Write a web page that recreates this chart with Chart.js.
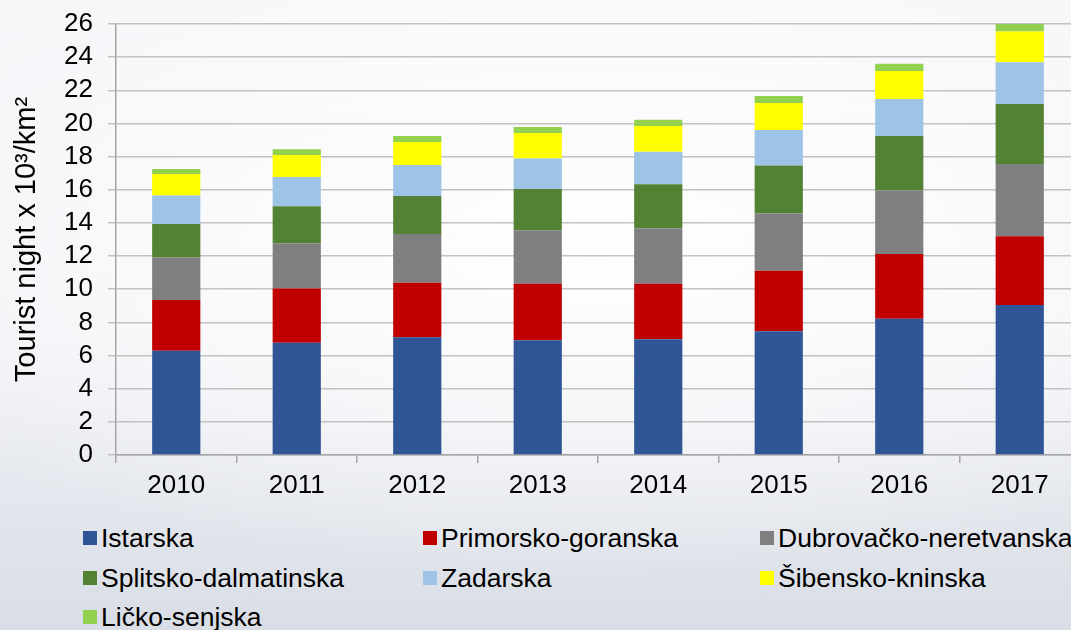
<!DOCTYPE html>
<html>
<head>
<meta charset="utf-8">
<script src="https://cdn.jsdelivr.net/npm/chart.js@4"></script>
<style>
  html, body { margin: 0; padding: 0; width: 1071px; height: 630px; overflow: hidden; }
  body {
    font-family: "Liberation Sans", Arial, sans-serif;
    background:
      radial-gradient(ellipse 820px 330px at 600px 250px, rgba(255,255,255,0.95) 0%, rgba(255,255,255,0.5) 55%, rgba(255,255,255,0) 100%),
      linear-gradient(180deg, #f7f7fa 0%, #f1f2f6 55%, #e4e7ed 78%, #d9dde5 100%);
    position: relative;
  }
  #wrap { position: absolute; left: 0; top: 0; width: 1085px; height: 510px; }
  #legend { position: absolute; left: 0; top: 518px; width: 1200px; }
  .item { position: absolute; height: 40px; line-height: 40px; font-size: 26.5px; color: #000; white-space: nowrap; }
  .box { display: inline-block; width: 14px; height: 14px; vertical-align: middle; margin-right: 4px; position: relative; top: -2px; }
</style>
</head>
<body>
<div id="wrap"><canvas id="c"></canvas></div>
<div id="legend"></div>
<script>
const years = ["2010","2011","2012","2013","2014","2015","2016","2017"];
const yTicks = [0,2,4,6,8,10,12,14,16,18,20,22,24,26];
const istarska      = [6.29, 6.77, 7.10, 6.92, 6.98, 7.46, 8.22, 9.05];
const primorsko     = [3.06, 3.28, 3.29, 3.41, 3.35, 3.66, 3.90, 4.14];
const dubrovacko    = [2.57, 2.72, 2.94, 3.22, 3.34, 3.46, 3.84, 4.36];
const splitsko      = [2.01, 2.23, 2.29, 2.49, 2.66, 2.89, 3.28, 3.62];
const zadarska      = [1.73, 1.77, 1.87, 1.85, 1.96, 2.13, 2.23, 2.53];
const sibensko      = [1.29, 1.32, 1.39, 1.53, 1.55, 1.63, 1.69, 1.85];
const licko         = [0.30, 0.35, 0.36, 0.36, 0.38, 0.42, 0.44, 0.45];
const seriesNames = ["Istarska","Primorsko-goranska","Dubrovačko-neretvanska","Splitsko-dalmatinska","Zadarska","Šibensko-kninska","Ličko-senjska"];
const seriesData = [istarska, primorsko, dubrovacko, splitsko, zadarska, sibensko, licko];
const colors = ["#2f5597","#c00000","#7f7f7f","#548235","#9dc3e6","#ffff00","#92d050"];
const axisTitle = "Tourist night x 10³/km²";

const FONT = "'Liberation Sans', Arial, sans-serif";

const chart = new Chart(document.getElementById('c'), {
  type: 'bar',
  data: {
    labels: years,
    datasets: seriesNames.map((n, i) => ({
      label: n,
      data: seriesData[i],
      backgroundColor: colors[i],
      borderWidth: 0,
      barPercentage: 0.4,
      categoryPercentage: 1.0
    }))
  },
  options: {
    responsive: true,
    maintainAspectRatio: false,
    animation: false,
    layout: { padding: { top: 24, right: 5, left: 0, bottom: 0 } },
    plugins: { legend: { display: false }, tooltip: { enabled: false } },
    scales: {
      x: {
        stacked: true,
        grid: { display: true, drawOnChartArea: false, drawTicks: true, tickLength: 8, color: '#a6a6a6', lineWidth: 1.5, offset: true },
        border: { display: true, color: '#a6a6a6', width: 1.5 },
        ticks: { color: '#000', font: { family: FONT, size: 26 }, padding: 7 },
        afterFit: s => { s.height = 55; }
      },
      y: {
        stacked: true,
        min: 0, max: 26,
        afterBuildTicks: s => { s.ticks = yTicks.map(v => ({ value: v })); },
        grid: { color: '#c2c2c2', lineWidth: 1.5, tickLength: 8, drawTicks: true },
        border: { display: true, color: '#a6a6a6', width: 1.5 },
        ticks: { color: '#000', font: { family: FONT, size: 26 }, padding: 15, autoSkip: false },
        title: { display: true, text: axisTitle, color: '#000', font: { family: FONT, size: 29 }, padding: { top: 10, bottom: 0 } },
        afterFit: s => { s.width = 116; s.paddingTop = 0; s.paddingBottom = 0; }
      }
    }
  }
});

// HTML legend built from the chart's datasets (3 columns)
const legend = document.getElementById('legend');
const colX = [83, 423, 760];
chart.data.datasets.forEach((ds, i) => {
  const el = document.createElement('div');
  el.className = 'item';
  el.style.left = colX[i % 3] + 'px';
  el.style.top = (Math.floor(i / 3) * 39.5) + 'px';
  const b = document.createElement('span');
  b.className = 'box';
  b.style.background = ds.backgroundColor;
  el.appendChild(b);
  el.appendChild(document.createTextNode(ds.label));
  legend.appendChild(el);
});
</script>
</body>
</html>
